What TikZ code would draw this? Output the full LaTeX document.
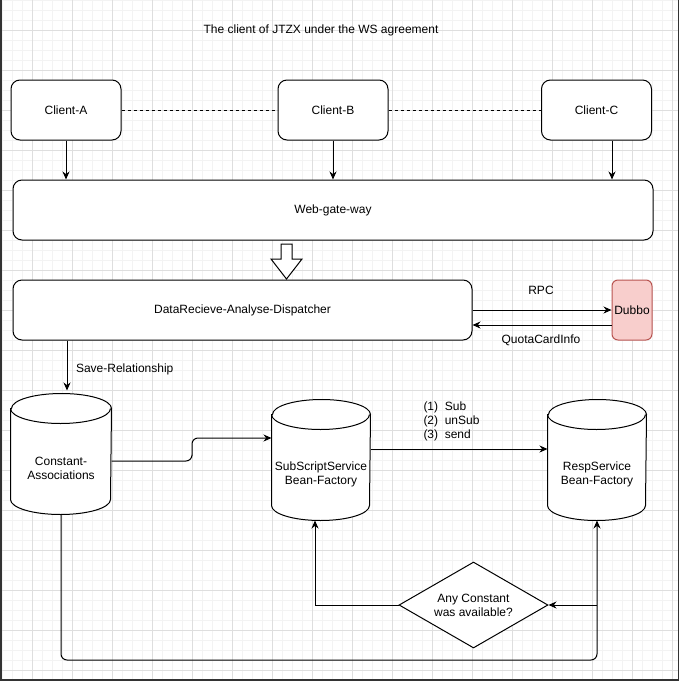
\documentclass[tikz,border=0pt]{standalone}
\usepackage{fontspec}
\setmainfont{Liberation Sans}
\usetikzlibrary{shapes.geometric,arrows.meta,calc}
\definecolor{gridmajor}{RGB}{222,222,222}
\definecolor{gridminor}{RGB}{243,243,243}
\definecolor{framecol}{RGB}{51,51,51}
\definecolor{dubfill}{HTML}{F8CECC}
\definecolor{dubdraw}{HTML}{B85450}
\def\cylr{50pt}
\newcommand\drawcyl[1]{%
  \draw[fill=white] ([yshift=-15pt]#1.north west) -- ([yshift=15pt]#1.south west)
     arc[start angle=180,end angle=360,x radius=\cylr,y radius=15pt]
     -- ([yshift=-15pt]#1.north east)
     arc[start angle=0,end angle=180,x radius=\cylr,y radius=15pt] -- cycle;
  \draw ([yshift=-15pt]#1.north west) arc[start angle=180,end angle=360,x radius=\cylr,y radius=15pt];
}
\begin{document}
\begin{tikzpicture}[x=1pt,y=-1pt,line width=1pt,
  font=\fontsize{12}{14}\selectfont,
  box/.style={draw, rounded corners=9pt, inner sep=0pt, align=center, fill=white},
  arr/.style={-{Stealth[length=8pt,width=7pt]}},
  txt/.style={inner sep=0pt, align=center},
  bounds/.style={inner sep=0pt, minimum width=#1, minimum height=120pt}
]
\useasboundingbox (0,0) rectangle (679,681);
\fill[white] (0,0) rectangle (679,681);
% grid
\foreach \x in {2,12,...,672} \draw[gridminor] (\x,0) -- (\x,681);
\foreach \y in {0,10,...,680} \draw[gridminor] (0,\y) -- (679,\y);
\foreach \x in {32,72,...,672} \draw[gridmajor] (\x,0) -- (\x,681);
\foreach \y in {30,70,...,670} \draw[gridmajor] (0,\y) -- (679,\y);
% frame
\draw[framecol, line width=2pt] (1,0) -- (1,681);
\draw[framecol, line width=1.5pt] (678.3,0) -- (678.3,681);
\draw[framecol, line width=1.5pt] (0,680) -- (679,680);

% title
\node[txt] (title) at (321,30) {The client of JTZX under the WS agreement};

% clients
\node[box, minimum width=110pt, minimum height=60pt] (cA) at (66,110) {Client-A};
\node[box, minimum width=110pt, minimum height=60pt] (cB) at (333,110) {Client-B};
\node[box, minimum width=110pt, minimum height=60pt] (cC) at (596.5,110) {Client-C};
\draw[dash pattern=on 3pt off 3pt] (cA) -- (cB);
\draw[dash pattern=on 3pt off 3pt] (cB) -- (cC);

% gateway
\node[box, minimum width=640pt, minimum height=60pt] (web) at (333,210) {Web-gate-way};
\draw[arr] (cA.south) -- (cA.south |- web.north);
\draw[arr] (cB.south) -- (cB.south |- web.north);
\draw[arr] ([xshift=15.5pt]cC.south) -- ([xshift=15.5pt]cC.south |- web.north);

% hollow arrow
\draw[fill=white, line join=miter] (281,244) -- (292,244) -- (292,259) -- (302,259)
  -- (286.5,279) -- (271,259) -- (281,259) -- cycle;

% dispatcher
\node[box, minimum width=459pt, minimum height=60pt] (dra) at (242.5,310) {DataRecieve-Analyse-Dispatcher};
\node[draw=dubdraw, fill=dubfill, rounded corners=6pt, inner sep=0pt,
  minimum width=40pt, minimum height=60pt] (dub) at (632,310) {Dubbo};
\draw[arr] (dra.east) -- (dub.west);
\draw[arr] ([yshift=-15pt]dub.west) -- ([yshift=-15pt]dra.east);
\node[txt] (rpc) at (541,290.5) {RPC};
\node[txt] (qci) at (541,340.5) {QuotaCardInfo};

% cylinders
\node[bounds=100pt] (ca) at (61,454) {};
\def\cylr{50pt}\drawcyl{ca}
\node[txt] (ca-t) at (61,468) {Constant-\\Associations};

\node[bounds=98pt] (sb) at (321,460) {};
\def\cylr{49pt}\drawcyl{sb}
\node[txt] (sb-t) at (321,474) {SubScriptService\\Bean-Factory};

\node[bounds=98pt] (rs) at (597,460) {};
\def\cylr{49pt}\drawcyl{rs}
\node[txt] (rs-t) at (597,474) {RespService\\Bean-Factory};

% save relationship
\draw[arr] ([xshift=54.5pt]dra.south west) -- ([xshift=54.5pt, yshift=3pt]dra.south west |- ca.north);
\node[txt, anchor=west] (save) at (75.5,369) {Save-Relationship};

% constant -> subscript
\coordinate (bend) at (192,450);
\draw[arr, rounded corners=6pt] ([yshift=-7pt]ca.east) -| (bend) |- ([yshift=22pt]sb.west);

% subscript -> resp
\draw[arr] ([yshift=11pt]sb.east) -- ([yshift=11pt]rs.west);
\node[txt, anchor=west, align=left] (ops) at (423,421) {(1)\ \ Sub\\(2)\ \ unSub\\(3)\ \ send};

% decision
\node[draw, diamond, aspect=1.73, inner sep=0pt, minimum width=149pt, minimum height=86pt,
  align=center, fill=white] (dia) at (473.5,605) {Any Constant\\was available?};
\draw[arr] (dia.west) -| ([xshift=-6pt]sb.south);
\coordinate (rail) at (330,660);
\draw[arr, rounded corners=6pt] (ca.south) |- (rail) -| (rs.south);
\draw[arr] (rs.south |- dia.east) -- (dia.east);
\end{tikzpicture}
\end{document}
